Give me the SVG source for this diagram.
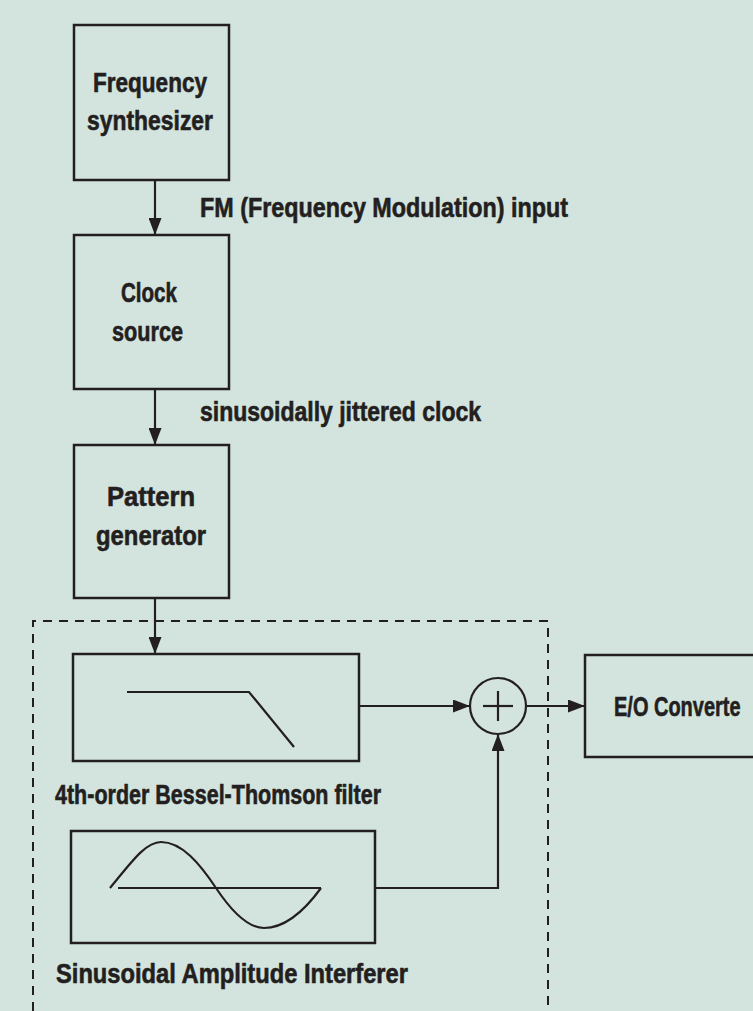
<svg xmlns="http://www.w3.org/2000/svg" width="753" height="1011" viewBox="0 0 753 1011">
<style>
.bx{fill:none;stroke:#231f20;stroke-width:2.5}
.ln{fill:none;stroke:#231f20;stroke-width:2.2}
.t{font-family:"Liberation Sans",Arial,sans-serif;font-weight:bold;font-size:27px;fill:#231f20;stroke:#231f20;stroke-width:0.6}
</style>
<defs>
<marker id="ah" markerUnits="userSpaceOnUse" markerWidth="17" markerHeight="13" refX="16" refY="6.5" orient="auto">
<path d="M0,0 L17,6.5 L0,13 Z" fill="#231f20"/>
</marker>
</defs>
<rect width="753" height="1011" fill="#d3e4de"/>
<g id="group-box">
<path d="M33,1011 V621 H548 V1011" fill="none" stroke="#231f20" stroke-width="2" stroke-dasharray="9,7"/>
</g>
<g id="connectors">
<line class="ln" x1="155" y1="180" x2="155" y2="234" marker-end="url(#ah)"/>
<line class="ln" x1="155" y1="389" x2="155" y2="444" marker-end="url(#ah)"/>
<line class="ln" x1="155" y1="598" x2="155" y2="653" marker-end="url(#ah)"/>
<line class="ln" x1="359" y1="706" x2="469" y2="706" marker-end="url(#ah)"/>
<line class="ln" x1="527" y1="706" x2="584" y2="706" marker-end="url(#ah)"/>
<polyline class="ln" points="375,888 498,888 498,735" marker-end="url(#ah)"/>
<text class="t" x="200" y="217" textLength="368" lengthAdjust="spacingAndGlyphs">FM (Frequency Modulation) input</text>
<text class="t" x="200" y="421" textLength="281" lengthAdjust="spacingAndGlyphs">sinusoidally jittered clock</text>
</g>
<g id="freq-synth">
<rect class="bx" x="74" y="25" width="155" height="155"/>
<text class="t" x="93" y="92" textLength="114" lengthAdjust="spacingAndGlyphs">Frequency</text>
<text class="t" x="87" y="130" textLength="126" lengthAdjust="spacingAndGlyphs">synthesizer</text>
</g>
<g id="clock-source">
<rect class="bx" x="74" y="235" width="155" height="154"/>
<text class="t" x="121" y="302" textLength="56" lengthAdjust="spacingAndGlyphs">Clock</text>
<text class="t" x="112" y="341" textLength="71" lengthAdjust="spacingAndGlyphs">source</text>
</g>
<g id="pattern-gen">
<rect class="bx" x="74" y="445" width="155" height="153"/>
<text class="t" x="107" y="506" textLength="88" lengthAdjust="spacingAndGlyphs">Pattern</text>
<text class="t" x="96" y="545" textLength="110" lengthAdjust="spacingAndGlyphs">generator</text>
</g>
<g id="bessel-filter">
<rect class="bx" x="73" y="654" width="286" height="107"/>
<polyline class="ln" points="127,692 249,692 294,747"/>
<text class="t" x="55" y="804" textLength="326" lengthAdjust="spacingAndGlyphs">4th-order Bessel-Thomson filter</text>
</g>
<g id="sine-interferer">
<rect class="bx" x="71" y="831" width="304" height="112"/>
<path class="ln" d="M110,888 C130,864 145,842 161,842 C182,842 200,864 216,888 C232,912 248,928 264,928 C285,928 305,910 321,888"/>
<line class="ln" x1="118" y1="888" x2="321" y2="888"/>
<text class="t" x="56" y="983" textLength="352" lengthAdjust="spacingAndGlyphs">Sinusoidal Amplitude Interferer</text>
</g>
<g id="summer">
<circle class="ln" cx="498" cy="706" r="28"/>
<line class="ln" x1="483" y1="706" x2="513" y2="706"/>
<line class="ln" x1="498" y1="691" x2="498" y2="721"/>
</g>
<g id="eo-converter">
<rect class="bx" x="585" y="655" width="180" height="102"/>
<text class="t" transform="translate(614,716) scale(0.74,1)" x="0" y="0">E/O Converte</text>
</g>
</svg>
